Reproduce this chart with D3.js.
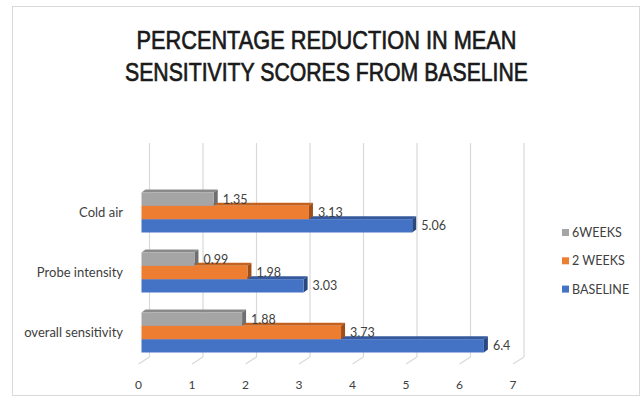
<!DOCTYPE html>
<html>
<head>
<meta charset="utf-8">
<script src="https://cdn.jsdelivr.net/npm/d3@7"></script>
<style>
  html, body { margin: 0; padding: 0; background: #fff; }
  svg { display: block; }
</style>
</head>
<body>
<svg id="chart" width="642" height="400"></svg>
<script>
// Chart data
const categories = ["Cold air", "Probe intensity", "overall sensitivity"];
const seriesNames = ["6WEEKS", "2 WEEKS", "BASELINE"];
const weeks6 = [1.35, 0.99, 1.88];
const weeks2 = [3.13, 1.98, 3.73];
const baseline = [5.06, 3.03, 6.4];
const xTicks = [0, 1, 2, 3, 4, 5, 6, 7];
const titleLines = ["PERCENTAGE REDUCTION IN MEAN", "SENSITIVITY SCORES FROM BASELINE"];

const seriesValues = [weeks6, weeks2, baseline];
const colors = {
  face: ["#a5a5a5", "#ed7d31", "#4472c4"],
  top:  ["#8a8a8a", "#c4621d", "#35599c"],
  side: ["#6f6f6f", "#9e4e16", "#2a4880"]
};

const svg = d3.select("#chart");

// Outer chart frame
svg.append("rect")
  .attr("x", 12.5).attr("y", 6.5)
  .attr("width", 627).attr("height", 389)
  .attr("fill", "#fff").attr("stroke", "#d9d9d9").attr("stroke-width", 1);

// Title
svg.append("g").selectAll("text")
  .data(titleLines)
  .join("text")
  .attr("x", 326.5)
  .attr("y", (d, i) => 49 + i * 32)
  .attr("text-anchor", "middle")
  .attr("font-family", "'Liberation Sans', Arial, sans-serif")
  .attr("font-size", 26)
  .attr("fill", "#1a1a1a")
  .attr("stroke", "#1a1a1a")
  .attr("stroke-width", 0.7)
  .attr("textLength", (d, i) => i === 0 ? 380 : 403)
  .attr("lengthAdjust", "spacingAndGlyphs")
  .text(d => d);

// Scales (front plane of the 3D plot)
const x = d3.scaleLinear().domain([0, 7]).range([141.5, 516]);
const y = d3.scaleBand().domain(categories).range([182.5, 362.5]);
const ySeries = d3.scaleBand().domain(seriesNames).range([0, y.bandwidth()]).paddingOuter(0.75).paddingInner(0);

// Depth offsets
const wall = { dx: 8, dy: -6 };      // back wall relative to front plane
const bar = { dx: 4, dy: -3 };       // bar thickness in depth
const wallTop = 143, wallBottom = 357;

// Back-wall gridlines and floor lines
const grid = svg.append("g");
grid.selectAll("line.grid")
  .data(xTicks)
  .join("line")
  .attr("class", "grid")
  .attr("x1", d => x(d) + wall.dx).attr("x2", d => x(d) + wall.dx)
  .attr("y1", wallTop).attr("y2", wallBottom)
  .attr("stroke", "#d9d9d9").attr("stroke-width", 1.2);
grid.selectAll("line.floor")
  .data(xTicks)
  .join("line")
  .attr("class", "floor")
  .attr("x1", d => x(d) + wall.dx).attr("y1", wallBottom)
  .attr("x2", d => x(d) + wall.dx - 11).attr("y2", wallBottom + 7)
  .attr("stroke", "#d9d9d9").attr("stroke-width", 1.2);

// X axis labels
svg.append("g").selectAll("text")
  .data(xTicks)
  .join("text")
  .attr("x", d => x(d) - 3)
  .attr("y", 389)
  .attr("text-anchor", "middle")
  .attr("font-family", "Lato, sans-serif")
  .attr("font-size", 12)
  .attr("fill", "#404040")
  .text(d => d);

// Category labels
svg.append("g").selectAll("text")
  .data(categories)
  .join("text")
  .attr("x", 123)
  .attr("y", d => y(d) + y.bandwidth() / 2 + 4.5)
  .attr("text-anchor", "end")
  .attr("font-family", "Lato, sans-serif")
  .attr("font-size", 13)
  .attr("fill", "#404040")
  .text(d => d);

// Bars: draw bottom series first so upper bars hide the top faces beneath them
const bars = [];
categories.forEach((c, ci) => {
  seriesNames.forEach((s, si) => {
    bars.push({ cat: c, series: s, si, value: seriesValues[si][ci] });
  });
});
bars.sort((a, b) => b.si - a.si);

const barG = svg.append("g");
bars.forEach(b => {
  const x0 = x(0), x1 = x(b.value);
  const yt = y(b.cat) + ySeries(b.series);
  const yb = yt + ySeries.bandwidth();
  const g = barG.append("g");
  // top face
  g.append("path")
    .attr("d", `M${x0},${yt}L${x0 + bar.dx},${yt + bar.dy}L${x1 + bar.dx},${yt + bar.dy}L${x1},${yt}Z`)
    .attr("fill", colors.top[b.si]);
  // end face
  g.append("path")
    .attr("d", `M${x1},${yt}L${x1 + bar.dx},${yt + bar.dy}L${x1 + bar.dx},${yb + bar.dy}L${x1},${yb}Z`)
    .attr("fill", colors.side[b.si]);
  // front face
  g.append("rect")
    .attr("x", x0).attr("y", yt)
    .attr("width", x1 - x0).attr("height", yb - yt)
    .attr("fill", colors.face[b.si]);
});

// Value labels
svg.append("g").selectAll("text")
  .data(bars)
  .join("text")
  .attr("x", d => x(d.value) + bar.dx + 5)
  .attr("y", d => y(d.cat) + ySeries(d.series) + ySeries.bandwidth() / 2 + 4.5)
  .attr("font-family", "Lato, sans-serif")
  .attr("font-size", 12.5)
  .attr("fill", "#404040")
  .text(d => d.value);

// Legend
const legend = svg.append("g").selectAll("g")
  .data(seriesNames)
  .join("g")
  .attr("transform", (d, i) => `translate(562, ${232.5 + i * 28.3})`);
legend.append("rect")
  .attr("x", 0).attr("y", -3.5)
  .attr("width", 7).attr("height", 7)
  .attr("fill", (d, i) => colors.face[i]);
legend.append("text")
  .attr("x", 10).attr("y", 4.5)
  .attr("font-family", "Lato, sans-serif")
  .attr("font-size", 12.5)
  .attr("fill", "#404040")
  .text(d => d);
</script>
</body>
</html>
